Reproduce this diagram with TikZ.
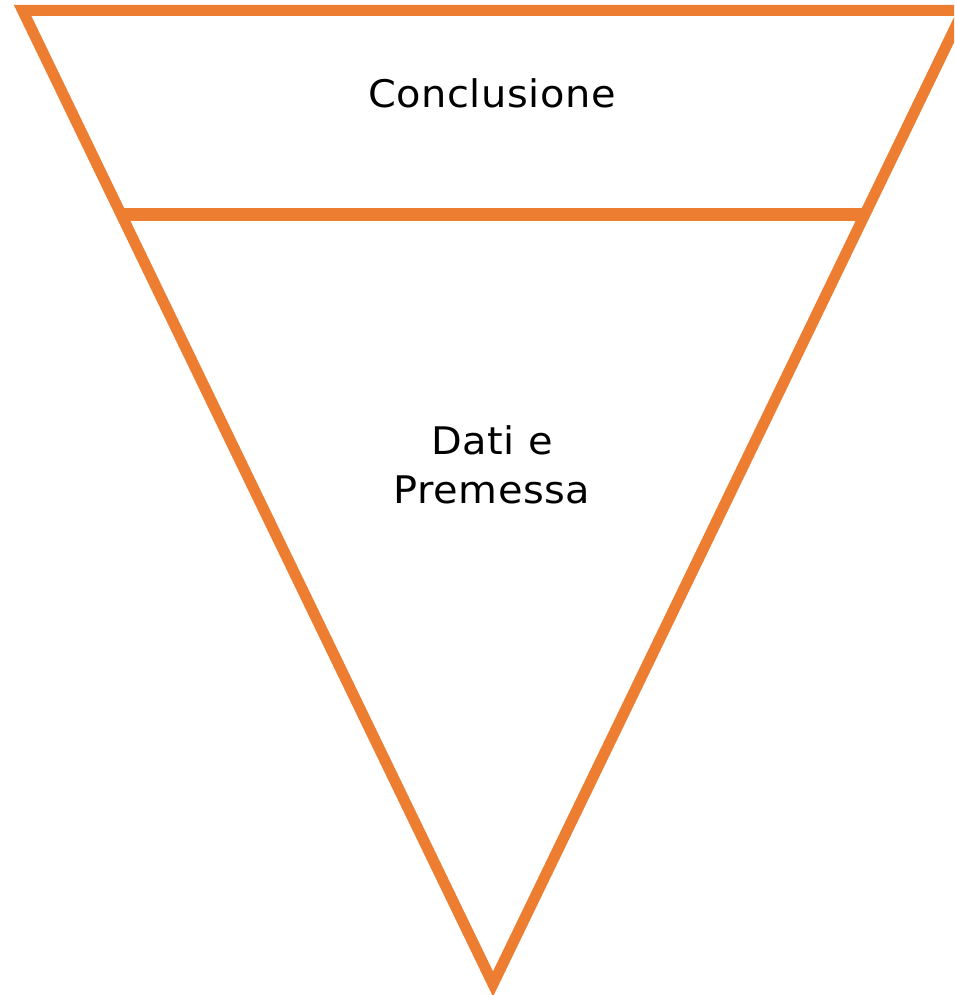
\documentclass[tikz,border=0pt]{standalone}
\usepackage{fontspec}
\setmainfont{DejaVu Sans}[FakeStretch=1.05, LetterSpace=1.5]
\usetikzlibrary{calc}
\definecolor{funnelorange}{HTML}{ED7D31}
\tikzset{
  funnelline/.style={draw=funnelorange, line width=11pt, line join=miter},
  funnelbar/.style={draw=funnelorange, line width=12.5pt},
  funneltext/.style={anchor=base, inner sep=0pt, font=\fontsize{38}{49}\selectfont, text=black}
}
\begin{document}
\begin{tikzpicture}[x=1pt,y=-1pt]
\useasboundingbox (0,0) rectangle (954,995);
\clip (0,0) rectangle (954,995);
\coordinate (tl) at (22.6,10.5);
\coordinate (tr) at (963.4,10.5);
\coordinate (apex) at (493,984);
\coordinate (ml) at ($(tl)!0.2096!(apex)$);
\coordinate (mr) at ($(tr)!0.2096!(apex)$);
\draw[funnelline] (tl) -- (tr) -- (apex) -- cycle;
\draw[funnelbar] (ml) -- (mr);
\node[funneltext] (concl) at (492,108) {Conclusione};
\node[funneltext] (dati) at (492,454) {Dati e};
\node[funneltext] (prem) at (492,503) {Premessa};
\end{tikzpicture}
\end{document}
